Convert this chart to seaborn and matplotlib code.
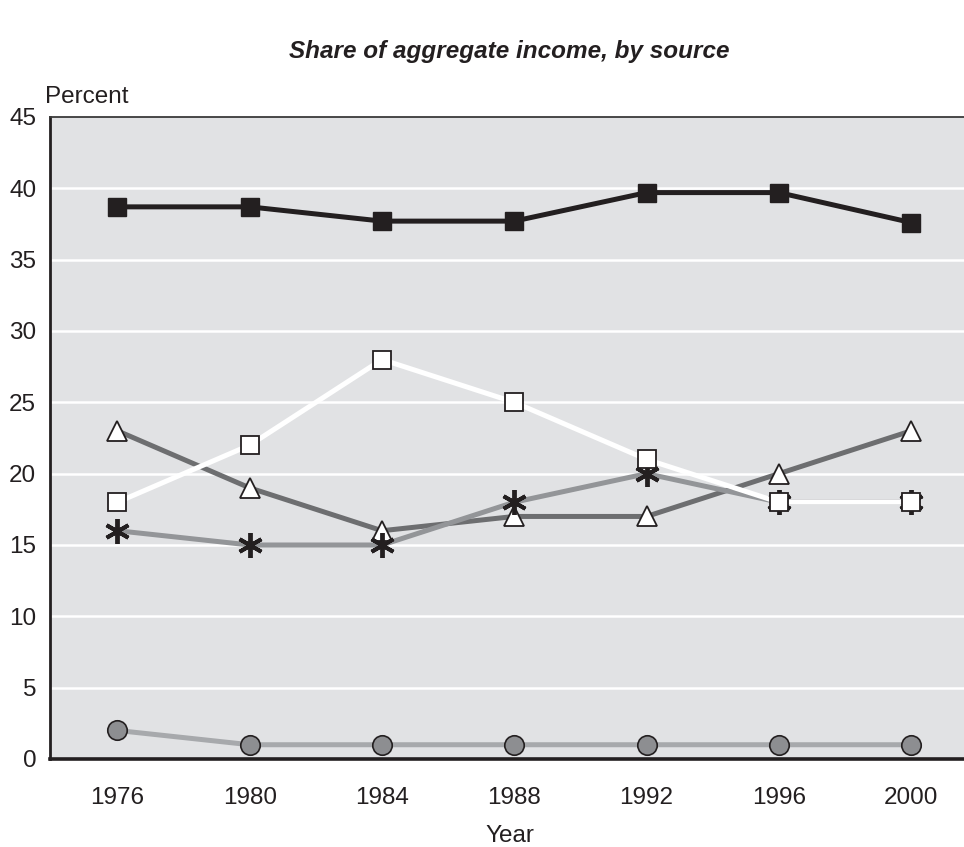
import matplotlib
matplotlib.use('Agg')
import matplotlib.pyplot as plt
import seaborn as sns
import pandas as pd

years = ['1976', '1980', '1984', '1988', '1992', '1996', '2000']
social_security = [38.7, 38.7, 37.7, 37.7, 39.7, 39.7, 37.6]
asset_income = [18, 22, 28, 25, 21, 18, 18]
earnings = [23, 19, 16, 17, 17, 20, 23]
pensions = [16, 15, 15, 18, 20, 18, 18]
other = [2, 1, 1, 1, 1, 1, 1]

df = pd.DataFrame({'Year': years, 'social_security': social_security,
                   'asset_income': asset_income, 'earnings': earnings,
                   'pensions': pensions, 'other': other})

sns.set_style('white')
plt.rcParams['font.family'] = ['Liberation Sans', 'DejaVu Sans']

fig = plt.figure(figsize=(9.64, 8.47), dpi=100)
ax = fig.add_axes([0.0519, 0.1039, 0.955, 0.758])
ax.set_facecolor('#e1e2e4')

dark = '#231f20'

# other: circles
sns.lineplot(data=df, x='Year', y='other', ax=ax, color='#a7a9ac', linewidth=3.6,
             marker='o', markersize=14, markerfacecolor='#8d8e91',
             markeredgecolor=dark, markeredgewidth=1.2, zorder=3)
# earnings: triangles
sns.lineplot(data=df, x='Year', y='earnings', ax=ax, color='#6d6e70', linewidth=3.6,
             marker='^', markersize=14, markerfacecolor='white',
             markeredgecolor=dark, markeredgewidth=1.3, zorder=3)
# pensions: asterisks
sns.lineplot(data=df, x='Year', y='pensions', ax=ax, color='#939598', linewidth=3.6,
             marker=(6, 2, 0), markersize=18, markerfacecolor=dark,
             markeredgecolor=dark, markeredgewidth=2.8, zorder=4)
# asset income: white squares
sns.lineplot(data=df, x='Year', y='asset_income', ax=ax, color='white', linewidth=3.6,
             marker='s', markersize=13, markerfacecolor='white',
             markeredgecolor=dark, markeredgewidth=1.3, zorder=5)
# social security: black squares
sns.lineplot(data=df, x='Year', y='social_security', ax=ax, color=dark, linewidth=3.6,
             marker='s', markersize=13, markerfacecolor=dark,
             markeredgecolor=dark, markeredgewidth=1, zorder=6)

ax.set_xlim(-0.51, 6.45)
ax.set_ylim(0, 45)
ax.set_yticks(range(0, 50, 5))
for v in range(5, 45, 5):
    ax.axhline(v, color='white', linewidth=1.8, zorder=1)

ax.set_xticks(range(len(years)))
ax.set_xticklabels(years)
ax.set_xticks([i + 0.5 for i in range(len(years) - 1)], minor=True)
ax.tick_params(axis='x', which='major', length=0, pad=20, labelsize=17.5, colors='#231f20')
ax.tick_params(axis='x', which='minor', direction='in', length=9, width=2, color=dark)
ax.tick_params(axis='y', length=0, pad=10, labelsize=17.5, colors='#231f20')

for s in ['left', 'bottom']:
    ax.spines[s].set_color(dark)
ax.spines['left'].set_linewidth(2)
ax.spines['bottom'].set_linewidth(2.6)
ax.spines['top'].set_color('#3a3a3a')
ax.spines['top'].set_linewidth(1.3)
ax.spines['right'].set_visible(False)

ax.set_xlabel('Year', fontsize=17.5, labelpad=12, color='#231f20')
ax.set_ylabel('')
fig.text(0.047, 0.886, 'Percent', fontsize=17.5, color='#231f20', va='center')
fig.text(0.528, 0.939, 'Share of aggregate income, by source', fontsize=17.5,
         fontweight='bold', fontstyle='italic', ha='center', va='center', color='#231f20')

plt.savefig('out.png', dpi=100)
